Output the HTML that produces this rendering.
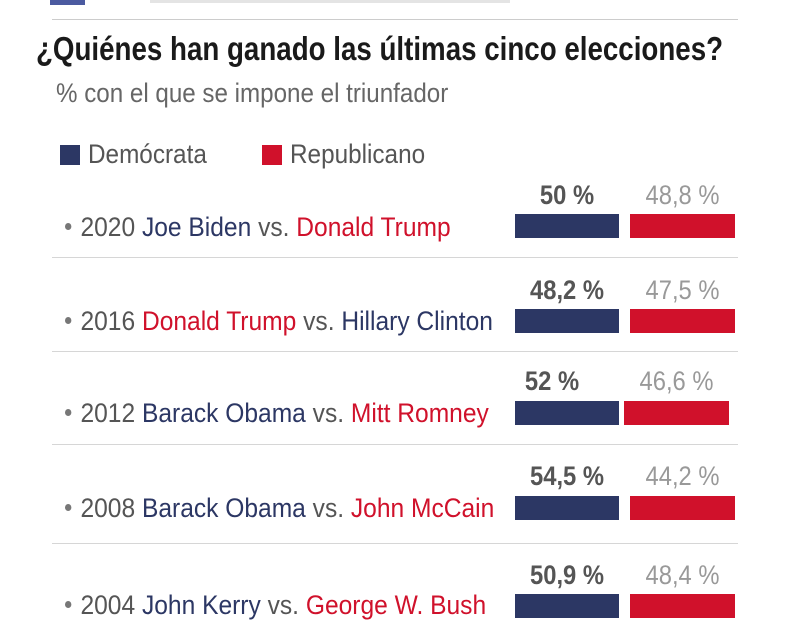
<!DOCTYPE html>
<html><head><meta charset="utf-8"><style>
body{margin:0;width:800px;height:600px;overflow:hidden;background:#fff;font-family:"Liberation Sans",sans-serif;position:relative}
.a{position:absolute;white-space:nowrap;transform-origin:left top}
.sep{position:absolute;left:52px;width:686px;height:1px;background:#d6d6d6}
.b{color:#2c3764}.r{color:#d0112b}
.t{font-size:27px;color:#555;transform:scaleX(0.91)}
.dot{display:inline-block;width:7px;height:7px;border-radius:50%;background:#777;margin:0 10px 5px 0;vertical-align:middle}
.bar{position:absolute;height:24px}
.pd{position:absolute;font-size:27px;font-weight:bold;color:#555;text-align:center;width:104px;transform:scaleX(0.88);white-space:nowrap}
.pr{position:absolute;font-size:27px;color:#999;text-align:center;width:105px;transform:scaleX(0.88);white-space:nowrap}
</style></head><body>
<div class="a" style="left:50px;top:0;width:35px;height:5px;background:#4b5aa0"></div>
<div class="a" style="left:150px;top:0;width:360px;height:3px;background:#e4e4e4"></div>
<div class="sep" style="top:19px;background:#ccc"></div>
<div class="a" style="left:36px;top:30px;font-size:33px;font-weight:bold;color:#1a1a1a;transform:scaleX(0.84)">¿Quiénes han ganado las últimas cinco elecciones?</div>
<div class="a" style="left:56px;top:78px;font-size:27px;color:#666;transform:scaleX(0.895)">% con el que se impone el triunfador</div>
<div class="a" style="left:60px;top:145px;width:20px;height:20px;background:#2c3764"></div>
<div class="a" style="left:88px;top:139px;font-size:27px;color:#555;transform:scaleX(0.9)">Demócrata</div>
<div class="a" style="left:262px;top:145px;width:20px;height:20px;background:#d0112b"></div>
<div class="a" style="left:290px;top:139px;font-size:27px;color:#555;transform:scaleX(0.9)">Republicano</div>

<div class="a t" style="left:65px;top:212px"><span class="dot"></span>2020 <span class="b">Joe Biden</span> vs. <span class="r">Donald Trump</span></div>
<div class="pd" style="left:515px;top:180px">50 %</div><div class="pr" style="left:630px;top:180px">48,8 %</div>
<div class="bar" style="left:515px;top:214px;width:104px;background:#2c3764"></div><div class="bar" style="left:630px;top:214px;width:105px;background:#d0112b"></div>
<div class="sep" style="top:257px"></div>

<div class="a t" style="left:65px;top:306px"><span class="dot"></span>2016 <span class="r">Donald Trump</span> vs. <span class="b">Hillary Clinton</span></div>
<div class="pd" style="left:515px;top:275px">48,2 %</div><div class="pr" style="left:630px;top:275px">47,5 %</div>
<div class="bar" style="left:515px;top:309px;width:104px;background:#2c3764"></div><div class="bar" style="left:630px;top:309px;width:105px;background:#d0112b"></div>
<div class="sep" style="top:351px"></div>

<div class="a t" style="left:65px;top:398px"><span class="dot"></span>2012 <span class="b">Barack Obama</span> vs. <span class="r">Mitt Romney</span></div>
<div class="pd" style="left:500px;top:366px">52 %</div><div class="pr" style="left:624px;top:366px">46,6 %</div>
<div class="bar" style="left:515px;top:401px;width:104px;background:#2c3764"></div><div class="bar" style="left:624px;top:401px;width:105px;background:#d0112b"></div>
<div class="sep" style="top:444px"></div>

<div class="a t" style="left:65px;top:493px"><span class="dot"></span>2008 <span class="b">Barack Obama</span> vs. <span class="r">John McCain</span></div>
<div class="pd" style="left:515px;top:461px">54,5 %</div><div class="pr" style="left:630px;top:461px">44,2 %</div>
<div class="bar" style="left:515px;top:496px;width:104px;background:#2c3764"></div><div class="bar" style="left:630px;top:496px;width:105px;background:#d0112b"></div>
<div class="sep" style="top:543px"></div>

<div class="a t" style="left:65px;top:590px"><span class="dot"></span>2004 <span class="b">John Kerry</span> vs. <span class="r">George W. Bush</span></div>
<div class="pd" style="left:515px;top:560px">50,9 %</div><div class="pr" style="left:630px;top:560px">48,4 %</div>
<div class="bar" style="left:515px;top:594px;width:104px;background:#2c3764"></div><div class="bar" style="left:630px;top:594px;width:105px;background:#d0112b"></div>
</body></html>
